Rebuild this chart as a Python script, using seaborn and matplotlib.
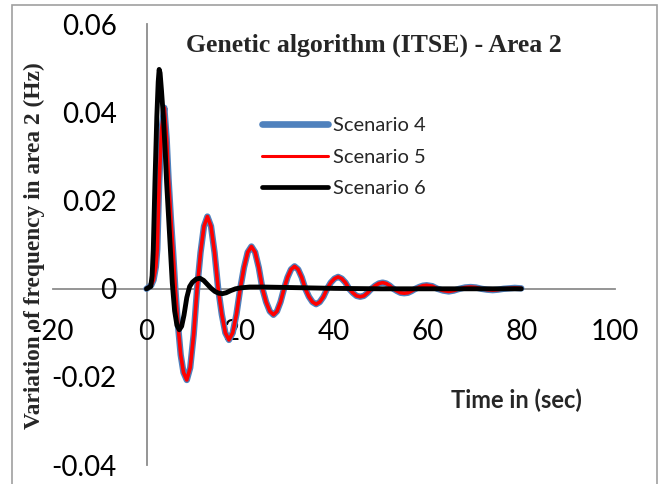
import matplotlib
matplotlib.use("Agg")
import matplotlib.pyplot as plt
import seaborn as sns
import pandas as pd
from matplotlib.patches import Rectangle
from matplotlib.lines import Line2D

# ---------------- data ----------------
t_s45 = [0.0, 1.0, 1.5, 2.0, 2.3, 2.7, 3.2, 3.8, 4.3, 4.7, 5.2, 5.7, 6.15, 6.7,
         7.3, 7.9, 8.6,
         9.33, 10.07, 10.8, 11.53, 12.27, 13.0,
         13.77, 14.53, 15.3, 16.07, 16.83, 17.6,
         18.4, 19.2, 20.0, 20.8, 21.6, 22.4,
         23.18, 23.97, 24.75, 25.53, 26.32, 27.1,
         27.85, 28.6, 29.35, 30.1, 30.85, 31.6,
         32.37, 33.13, 33.9, 34.67, 35.43, 36.2,
         36.98, 37.77, 38.55, 39.33, 40.12, 40.9,
         41.68, 42.47, 43.25, 44.03, 44.82, 45.6,
         46.4, 47.2, 48.0, 48.8, 49.6, 50.4,
         51.17, 51.93, 52.7, 53.47, 54.23, 55.0,
         55.8, 56.6, 57.4, 58.2, 59.0, 59.8,
         61.0, 62.1, 63.3, 64.5, 65.6, 66.8, 68.0, 69.2, 70.3, 71.5,
         72.7, 73.9, 75.0, 76.2, 77.4, 78.6, 80.0]
scenario4 = [0.0, 0.0008, 0.002, 0.005, 0.009, 0.024, 0.036, 0.0411, 0.034, 0.025,
             0.016, 0.008, 0.0, -0.008, -0.015, -0.019, -0.0207,
             -0.0179, -0.0104, 0.0, 0.0082, 0.0142, 0.0164,
             0.0142, 0.0082, 0.0, -0.0058, -0.0100, -0.0116,
             -0.0100, -0.0058, 0.0, 0.0048, 0.0083, 0.0096,
             0.0083, 0.0048, 0.0, -0.0030, -0.0051, -0.0059,
             -0.0051, -0.0030, 0.0, 0.0026, 0.0044, 0.0051,
             0.0044, 0.0026, 0.0, -0.0018, -0.0030, -0.0035,
             -0.0030, -0.0018, 0.0, 0.0014, 0.0023, 0.0027,
             0.0023, 0.0014, 0.0, -0.0009, -0.0016, -0.0018,
             -0.0016, -0.0009, 0.0, 0.0007, 0.0012, 0.0014,
             0.0012, 0.0007, 0.0, -0.0005, -0.0009, -0.0010,
             -0.0009, -0.0005, 0.0, 0.0004, 0.0007, 0.0008,
             0.0006, 0.0, -0.0004, -0.0006, -0.0004, 0.0, 0.0003, 0.0004, 0.0003, 0.0,
             -0.0002, -0.0003, -0.0002, 0.0, 0.0001, 0.0002, 0.0001]
scenario5 = list(scenario4)  # coincides with scenario 4 in the reference

t_s6 = [0.0, 0.5, 0.9, 1.2, 1.45, 1.8, 2.2, 2.5, 2.7, 2.9, 3.2, 3.6, 4.0, 4.3,
        4.9, 5.5, 6.0, 6.5, 7.0, 7.5, 8.0, 8.6, 9.2, 9.8, 10.6, 11.4, 12.2,
        13.0, 13.8, 14.6, 15.4, 16.2, 17.0, 18.0, 19.0, 20.0, 22.0, 25.0, 30.0,
        35.0, 40.0, 50.0, 60.0, 70.0, 80.0]
scenario6 = [0.0, 0.0003, 0.0005, 0.003, 0.0089, 0.024, 0.039, 0.047, 0.0498,
             0.049, 0.045, 0.039, 0.031, 0.024, 0.0127, 0.0014, -0.005, -0.0083,
             -0.0093, -0.0085, -0.006, -0.002, 0.0005, 0.0015, 0.0022, 0.0024,
             0.0019, 0.0010, 0.0001, -0.0006, -0.0010, -0.0011, -0.0009, -0.0004,
             0.0, 0.0002, 0.0004, 0.0004, 0.0003, 0.0002, 0.0001, 0.0, 0.0, 0.0, 0.0]

labels = ["Scenario 4", "Scenario 5", "Scenario 6"]
colors = ["#4F81BD", "#FF0000", "#000000"]
x_ticks = [-20, 0, 20, 40, 60, 80, 100]
y_ticks = [-0.04, -0.02, 0, 0.02, 0.04, 0.06]
y_tick_labels = ["-0.04", "-0.02", "0", "0.02", "0.04", "0.06"]
title = "Genetic algorithm (ITSE) - Area 2"
xlabel = "Time in (sec)"
ylabel = "Variation of frequency in area 2 (Hz)"

# ---------------- figure ----------------
sns.set_style("white")
plt.rcParams["font.family"] = ["Lato", "DejaVu Sans"]
plt.rcParams["axes.unicode_minus"] = False

fig = plt.figure(figsize=(6.6, 4.84), dpi=100)
ax = fig.add_axes([52.8 / 660, 1 - 465 / 484, (615 - 52.8) / 660, (465 - 24.5) / 484])

df4 = pd.DataFrame({"t": t_s45, "v": scenario4})
df5 = pd.DataFrame({"t": t_s45, "v": scenario5})
df6 = pd.DataFrame({"t": t_s6, "v": scenario6})
sns.lineplot(data=df4, x="t", y="v", ax=ax, color=colors[0], lw=4.6,
             sort=False, errorbar=None, solid_capstyle="round", solid_joinstyle="round")
sns.lineplot(data=df5, x="t", y="v", ax=ax, color=colors[1], lw=2.6,
             sort=False, errorbar=None, solid_capstyle="round", solid_joinstyle="round")
sns.lineplot(data=df6, x="t", y="v", ax=ax, color=colors[2], lw=3.5,
             sort=False, errorbar=None, solid_capstyle="round", solid_joinstyle="round")

ax.set_xlim(-20, 100)
ax.set_ylim(-0.04, 0.06)
ax.set_xticks(x_ticks)
ax.set_xticklabels([str(v) for v in x_ticks])
ax.set_yticks(y_ticks)
ax.set_yticklabels(y_tick_labels)
ax.set_xlabel("")
ax.set_ylabel("")

axis_col = "#8C8C8C"
for s in ["top", "right"]:
    ax.spines[s].set_visible(False)
ax.spines["left"].set_position(("data", 0))
ax.spines["bottom"].set_position(("data", 0))
for s in ["left", "bottom"]:
    ax.spines[s].set_color(axis_col)
    ax.spines[s].set_linewidth(1.3)
    ax.spines[s].set_zorder(0.5)
ax.tick_params(axis="x", direction="out", length=6.5, width=1.3, color=axis_col,
               pad=15.5, labelsize=20, labelcolor="black")
ax.tick_params(axis="y", direction="out", length=6.5, width=1.3, color=axis_col,
               pad=15, labelsize=20, labelcolor="black")
ax.patch.set_alpha(0)

# legend
handles = [Line2D([], [], color=colors[0], lw=4.8, solid_capstyle="round"),
           Line2D([], [], color=colors[1], lw=2.2, solid_capstyle="round"),
           Line2D([], [], color=colors[2], lw=3.4, solid_capstyle="round")]
ax.legend(handles, labels, loc="upper left", bbox_to_anchor=(262 / 660, 1 - 117 / 484),
          bbox_transform=fig.transFigure, frameon=False, fontsize=14.5,
          handlelength=3.3, handletextpad=0.25, labelspacing=0.72,
          borderpad=0, borderaxespad=0)

# texts
fig.text(373.5 / 660, 1 - 45 / 484, title, family=["Liberation Serif"], weight="bold",
         fontsize=18.5, ha="center", va="center")
fig.text(34 / 660, 1 - 246 / 484, ylabel, family=["Liberation Serif"], weight="bold",
         fontsize=16.8, rotation=90, ha="center", va="center")
fig.text(516.6 / 660, 1 - 400 / 484, xlabel, family=["Lato", "DejaVu Sans"], weight="bold",
         fontsize=17, ha="center", va="center")

# outer frame
fig.patches.append(Rectangle((11.7 / 660, -0.1), (656.7 - 11.7) / 660, 1.1 - 4.7 / 484,
                             transform=fig.transFigure, fill=False, edgecolor="#A0A0A0",
                             lw=1.2, figure=fig))

fig.savefig("out.png", dpi=100)
